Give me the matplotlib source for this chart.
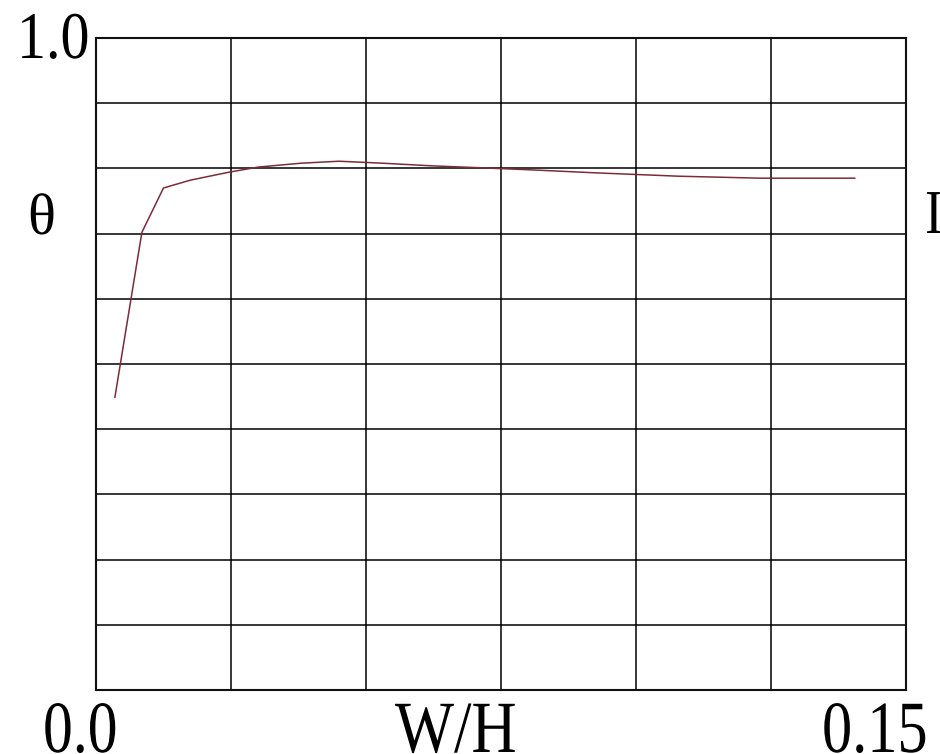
import matplotlib
matplotlib.use('Agg')
import matplotlib.pyplot as plt
from matplotlib.patheffects import AbstractPathEffect
from matplotlib.transforms import Affine2D

# W/H against theta
wh = [0.0035, 0.0085, 0.0125, 0.0175, 0.0245, 0.030, 0.038, 0.045,
      0.053, 0.062, 0.071, 0.080, 0.093, 0.108, 0.123, 0.1405]
theta = [0.449, 0.702, 0.770, 0.782, 0.794, 0.802, 0.808, 0.811,
         0.808, 0.804, 0.801, 0.798, 0.793, 0.788, 0.785, 0.785]

x_ticks = [0.0, 0.025, 0.05, 0.075, 0.10, 0.125, 0.15]
y_ticks = [0.0, 0.1, 0.2, 0.3, 0.4, 0.5, 0.6, 0.7, 0.8, 0.9, 1.0]

W, H = 940, 754


class Squeeze(AbstractPathEffect):
    """Narrow the glyphs horizontally, keeping the left edge in place."""

    def __init__(self, sx):
        super().__init__()
        self.sx = sx

    def draw_path(self, renderer, gc, tpath, affine, rgbFace=None):
        renderer.draw_path(gc, tpath, Affine2D().scale(self.sx, 1) + affine, rgbFace)


def label(x, y, s, size, sx):
    # x, y in pixels from the top-left corner, y on the baseline
    fig.text(x / W, 1 - y / H, s, fontsize=size, family='Liberation Serif',
             ha='left', va='baseline', path_effects=[Squeeze(sx)])


fig = plt.figure(figsize=(W / 100, H / 100), dpi=100)
ax = fig.add_axes([96 / W, 64 / H, 810 / W, 652 / H])

ax.plot(wh, theta, color='#7d2b3b', lw=1.1, solid_joinstyle='round')

ax.set_xlim(0, 0.15)
ax.set_ylim(0, 1.0)
ax.set_xticks(x_ticks)
ax.set_yticks(y_ticks)
ax.tick_params(length=0, labelbottom=False, labelleft=False)
ax.grid(True, color='black', lw=1.1)
ax.set_axisbelow(True)
for sp in ax.spines.values():
    sp.set_linewidth(1.5)
    sp.set_color('#111111')

label(17, 58, '1.0', 48, 0.87)
label(43, 752, '0.0', 53, 0.81)
label(395, 752, 'W/H', 53, 0.85)
label(822, 752, '0.15', 53, 0.82)
label(28, 234, 'θ', 42, 1.0)
label(925, 233, 'I', 45, 0.85)

fig.savefig('out.png', dpi=100, facecolor='white')
